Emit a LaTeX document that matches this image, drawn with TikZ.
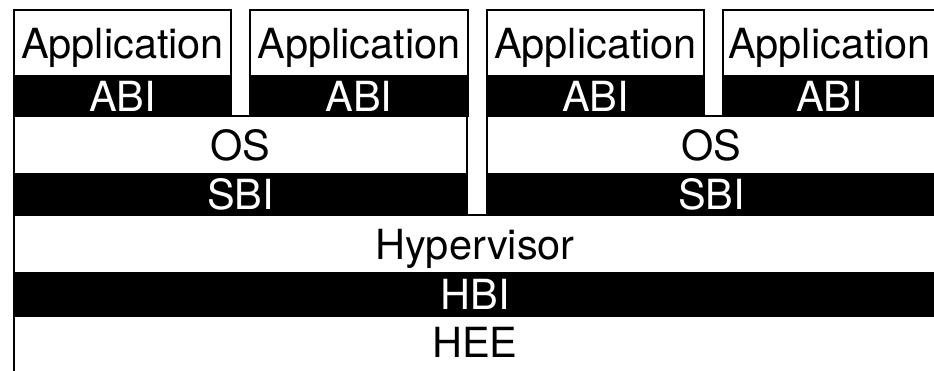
\documentclass[tikz,border=0pt]{standalone}
\usepackage{fontspec}
\setmainfont{TeX Gyre Heros}
\begin{document}
\begin{tikzpicture}[x=1pt,y=-1pt,
  layer/.style={line width=2.5pt, inner sep=0pt, outer sep=0pt, anchor=north west,
    font=\fontsize{41.5}{50}\selectfont, text height=30pt, text depth=0pt},
  wbox/.style={layer, draw=black, fill=white, text=black},
  bbox/.style={layer, draw=black, fill=black, text=white}]
\useasboundingbox (0,0) rectangle (934,370);
\clip (0,0) rectangle (934,370);
% applications
\node[wbox, minimum width=217pt, minimum height=66pt] (app1) at (14,10) {Application};
\node[wbox, minimum width=218pt, minimum height=66pt] (app2) at (250,10) {Application};
\node[wbox, minimum width=217pt, minimum height=66pt] (app3) at (487,10) {Application};
\node[wbox, minimum width=213pt, minimum height=66pt] (app4) at (723,10) {Application};
% ABIs
\node[bbox, minimum width=217pt, minimum height=40pt] (abi1) at (14,76) {ABI};
\node[bbox, minimum width=218pt, minimum height=40pt] (abi2) at (250,76) {ABI};
\node[bbox, minimum width=217pt, minimum height=40pt] (abi3) at (487,76) {ABI};
\node[bbox, minimum width=213pt, minimum height=40pt] (abi4) at (723,76) {ABI};
% OS
\node[wbox, minimum width=453pt, minimum height=58pt] (os1) at (14,116) {OS};
\node[wbox, minimum width=449pt, minimum height=58pt] (os2) at (487,116) {OS};
% SBI
\node[bbox, minimum width=453pt, minimum height=41pt] (sbi1) at (14,174) {SBI};
\node[bbox, minimum width=449pt, minimum height=41pt] (sbi2) at (487,174) {SBI};
% Hypervisor
\node[wbox, minimum width=922pt, minimum height=58pt] (hyp) at (14,215) {Hypervisor};
\node[bbox, minimum width=922pt, minimum height=43pt] (hbi) at (14,273) {HBI};
\node[wbox, minimum width=922pt, minimum height=64pt, text depth=12pt] (hee) at (14,316) {HEE};
\end{tikzpicture}
\end{document}
